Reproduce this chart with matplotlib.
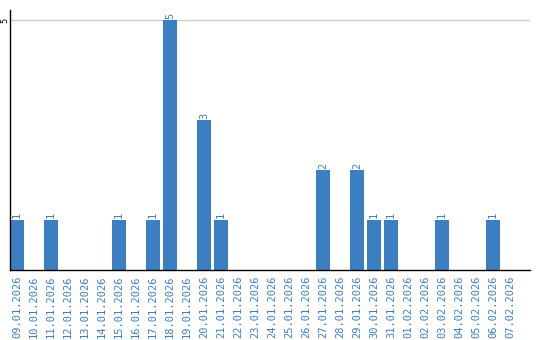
import matplotlib
matplotlib.use("Agg")
import matplotlib.pyplot as plt

# daily counts, 09.01.2026 - 07.02.2026
dates = ["09.01.2026", "10.01.2026", "11.01.2026", "12.01.2026", "13.01.2026",
         "14.01.2026", "15.01.2026", "16.01.2026", "17.01.2026", "18.01.2026",
         "19.01.2026", "20.01.2026", "21.01.2026", "22.01.2026", "23.01.2026",
         "24.01.2026", "25.01.2026", "26.01.2026", "27.01.2026", "28.01.2026",
         "29.01.2026", "30.01.2026", "31.01.2026", "01.02.2026", "02.02.2026",
         "03.02.2026", "04.02.2026", "05.02.2026", "06.02.2026", "07.02.2026"]
counts = [1, 0, 1, 0, 0, 0, 1, 0, 1, 5,
          0, 3, 1, 0, 0, 0, 0, 0, 2, 0,
          2, 1, 1, 0, 0, 1, 0, 0, 1, 0]

blue = "#3b7ec2"
x = list(range(len(dates)))

fig = plt.figure(figsize=(5.4, 3.4), dpi=100)
ax = fig.add_axes([10 / 540, 70 / 340, 520 / 540, 260 / 340])

ax.bar(x, counts, width=0.82, color=blue, zorder=2)
for xi, c in zip(x, counts):
    if c > 0:
        ax.text(xi, c + 0.03, str(c), rotation=90, ha="center", va="bottom",
                color=blue, fontsize=7.5, family="DejaVu Sans Mono")

ax.set_xlim(-0.41, 30.18)
ax.set_ylim(0, 5.2)
ax.axhline(5, color="#cccccc", lw=1, zorder=1)

ax.set_yticks([5])
ax.set_yticklabels(["5"], rotation=90, va="center", ha="center", fontsize=6)
ax.tick_params(axis="y", length=0, pad=4)

ax.set_xticks(x)
ax.set_xticklabels(dates, rotation=90, va="top", ha="center", color=blue,
                   fontsize=7.5, family="DejaVu Sans Mono")
ax.tick_params(axis="x", length=0, pad=4)

for side in ["top", "right"]:
    ax.spines[side].set_visible(False)
ax.spines["left"].set_color("black")
ax.spines["bottom"].set_color("black")
ax.spines["left"].set_linewidth(1)
ax.spines["bottom"].set_linewidth(1)

fig.savefig("out.png", dpi=100)
